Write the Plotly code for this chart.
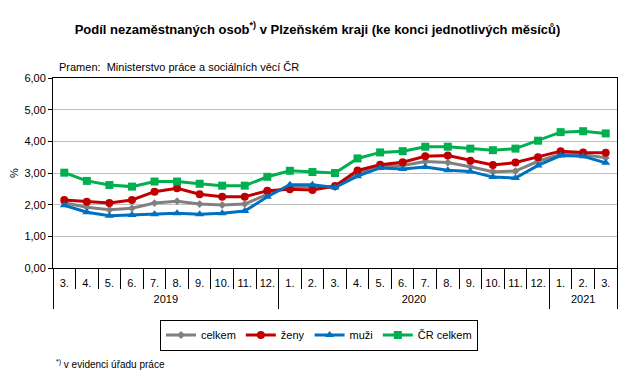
import plotly.graph_objects as go

years = ["2019"] * 10 + ["2020"] * 12 + ["2021"] * 3
months = ["3.", "4.", "5.", "6.", "7.", "8.", "9.", "10.", "11.", "12.",
          "1.", "2.", "3.", "4.", "5.", "6.", "7.", "8.", "9.", "10.", "11.", "12.",
          "1.", "2.", "3."]

celkem = [2.06, 1.92, 1.84, 1.89, 2.05, 2.11, 2.02, 1.99, 2.02, 2.33,
          2.57, 2.56, 2.55, 2.99, 3.20, 3.24, 3.36, 3.33, 3.20, 3.04, 3.06, 3.37,
          3.59, 3.58, 3.48]
zeny = [2.15, 2.09, 2.05, 2.15, 2.41, 2.52, 2.33, 2.25, 2.25, 2.44,
        2.49, 2.46, 2.59, 3.08, 3.26, 3.34, 3.53, 3.55, 3.39, 3.25, 3.33, 3.50,
        3.69, 3.65, 3.64]
muzi = [1.98, 1.76, 1.65, 1.67, 1.70, 1.73, 1.70, 1.73, 1.80, 2.25,
        2.63, 2.63, 2.54, 2.90, 3.16, 3.13, 3.19, 3.09, 3.05, 2.87, 2.84, 3.24,
        3.55, 3.53, 3.32]
cr_celkem = [3.01, 2.75, 2.62, 2.57, 2.73, 2.73, 2.66, 2.60, 2.60, 2.88,
             3.07, 3.03, 3.00, 3.46, 3.65, 3.69, 3.83, 3.83, 3.77, 3.72, 3.77, 4.02,
             4.29, 4.32, 4.25]

# unique category keys (month label + invisible zero-width spaces per year)
year_list = list(dict.fromkeys(years))
year_rank = {y: i for i, y in enumerate(year_list)}
month_keys = [m + "\u200b" * year_rank[y] for y, m in zip(years, months)]

# year group centres and boundaries in category index units
n = len(months)
year_idx = {y: [i for i, yy in enumerate(years) if yy == y] for y in year_list}
year_centres = [sum(v) / len(v) for v in year_idx.values()]
year_bounds = [v[0] - 0.5 for v in year_idx.values()] + [n - 0.5]

series = [
    ("celkem", celkem, "#808080", "diamond", 6),
    ("ženy", zeny, "#C00000", "circle", 8),
    ("muži", muzi, "#0070C0", "triangle-up", 8),
    ("ČR celkem", cr_celkem, "#00B050", "square", 8),
]

FONT = "Arial, Liberation Sans, sans-serif"

fig = go.Figure()
for name, vals, color, sym, size in series:
    fig.add_trace(go.Scatter(
        x=month_keys, y=vals, name=name, mode="lines+markers",
        line=dict(color=color, width=3),
        marker=dict(color=color, symbol=sym, size=size),
    ))

# empty helper trace so the year-level axis (x2) is drawn
fig.add_trace(go.Scatter(x=year_centres, y=[None] * len(year_centres), xaxis="x2",
                         mode="none", showlegend=False, hoverinfo="skip"))

fig.update_layout(
    width=635, height=376,
    margin=dict(l=53, r=18, t=78, b=108, autoexpand=False),
    paper_bgcolor="white", plot_bgcolor="white",
    separators=", ",
    font=dict(family=FONT, size=11, color="black"),
    title=dict(
        text="<b>Podíl nezaměstnaných osob<sup>*)</sup> v Plzeňském kraji (ke konci jednotlivých měsíců)</b>",
        x=0.5, xanchor="center", y=1 - 29 / 376, yanchor="middle",
        font=dict(size=13, family=FONT),
    ),
    showlegend=True,
    legend=dict(
        orientation="h", x=319 / 635, xanchor="center", y=1 - 335 / 376, yanchor="middle",
        xref="container", yref="container",
        bordercolor="black", borderwidth=1, font=dict(size=11),
        tracegroupgap=0,
    ),
    annotations=[
        dict(text="Pramen:  Ministerstvo práce a sociálních věcí ČR", xref="paper", yref="paper",
             x=(57 - 53) / 564, y=(268 - 67) / 190, xanchor="left", yanchor="middle",
             showarrow=False, font=dict(size=11)),
        dict(text="<sup>*)</sup> v evidenci úřadu práce", xref="paper", yref="paper",
             x=(54 - 53) / 564, y=(268 - 364) / 190, xanchor="left", yanchor="middle",
             showarrow=False, font=dict(size=10)),
    ],
    xaxis=dict(
        type="category", categoryorder="array", categoryarray=month_keys,
        range=[-0.5, n - 0.5], automargin=False, tickangle=0,
        tickson="boundaries", ticks="outside", ticklen=20, tickcolor="black",
        ticklabelstandoff=5,
        showline=True, linecolor="black", linewidth=1, mirror=True,
        showgrid=False, zeroline=False, tickfont=dict(size=11),
    ),
    xaxis2=dict(
        overlaying="x", anchor="y", side="bottom", type="linear",
        range=[-0.5, n - 0.5], automargin=False, tickangle=0,
        tickmode="array", tickvals=year_centres, ticktext=year_list,
        ticks="", ticklabelstandoff=23,
        showline=False, showgrid=False, zeroline=False, tickfont=dict(size=11),
        minor=dict(tickmode="array", tickvals=year_bounds, ticks="outside",
                   ticklen=40, tickcolor="black", tickwidth=1, showgrid=False),
    ),
)

fig.update_yaxes(
    range=[0, 6], dtick=1, tickformat=".2f",
    showgrid=True, gridcolor="#BFBFBF", gridwidth=1,
    showline=True, linecolor="black", linewidth=1, mirror=True,
    ticks="outside", ticklen=4, tickcolor="black",
    zeroline=False, automargin=False,
    title=dict(text="%", font=dict(size=11), standoff=3),
    tickfont=dict(size=11),
)

fig.write_html("out.html", config={"displayModeBar": False},
               post_script="document.body.style.margin='0';")
